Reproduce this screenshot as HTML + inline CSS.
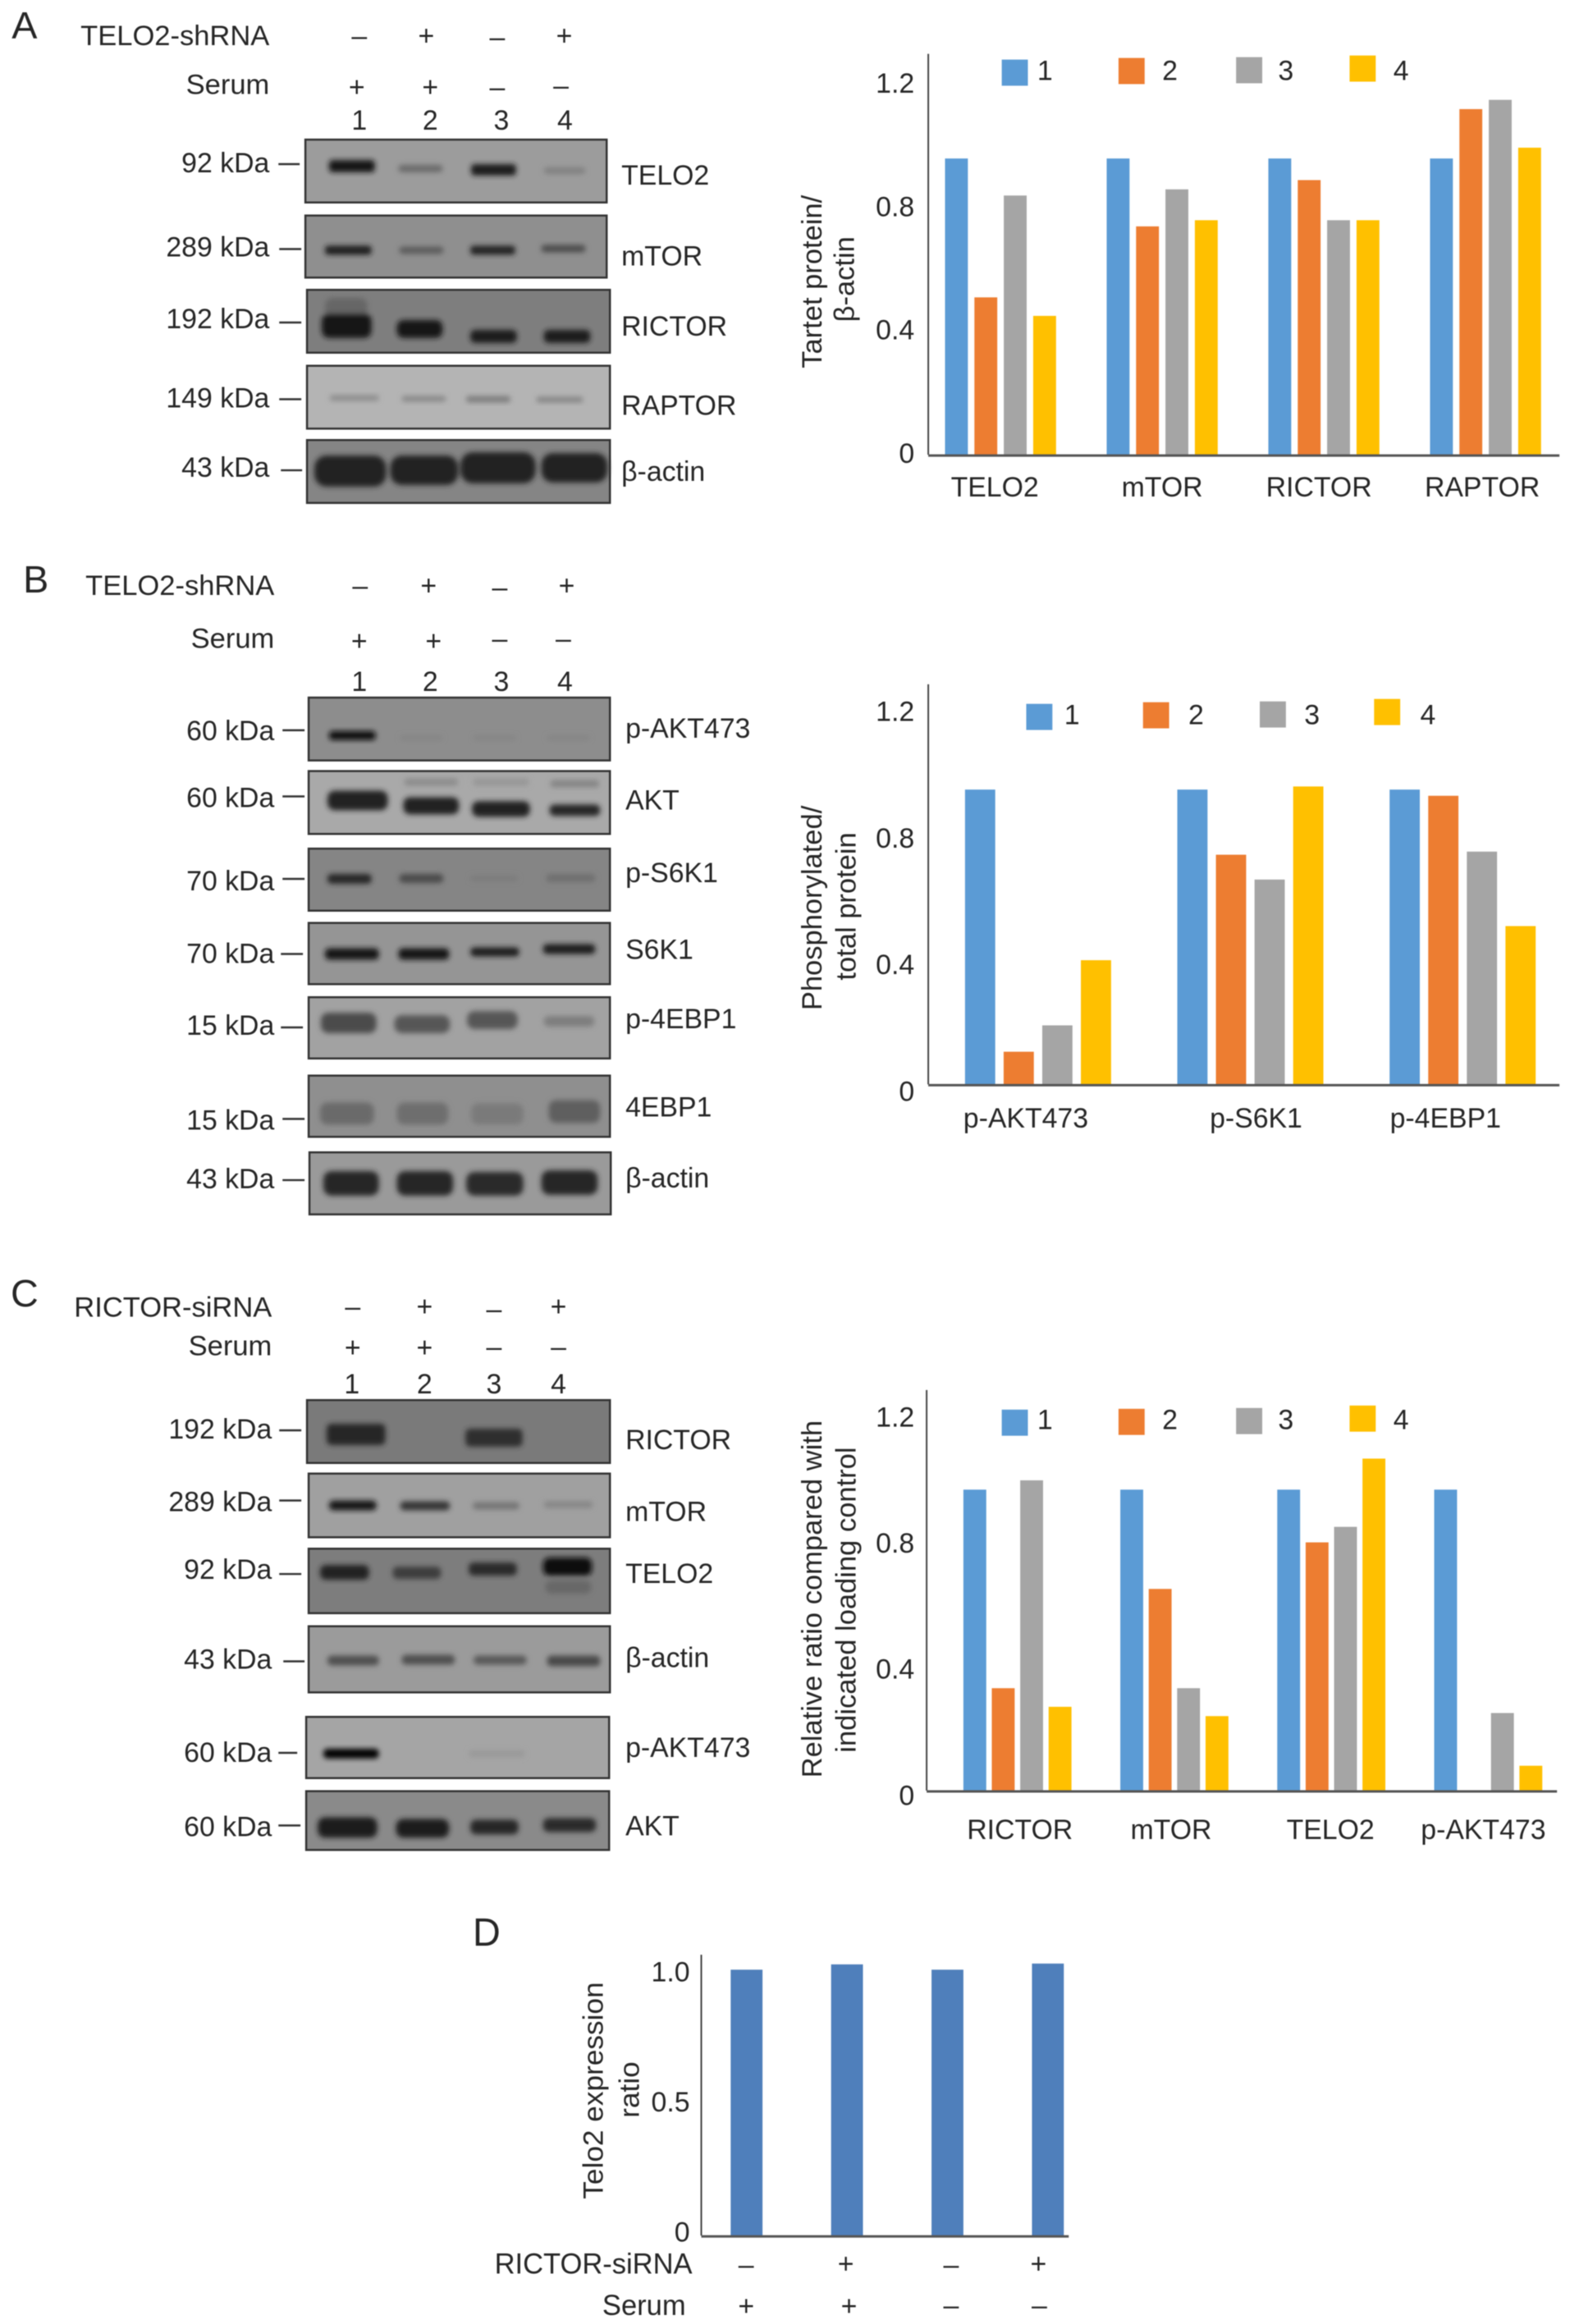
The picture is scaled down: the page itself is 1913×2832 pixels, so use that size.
<!DOCTYPE html>
<html lang="en">
<head>
<meta charset="utf-8">
<title>TELO2 western blots and quantification</title>
<style>
html,body{margin:0;padding:0;background:#fff;width:1913px;height:2832px;overflow:hidden}
svg{display:block;filter:blur(.6px)}
text{font-family:"Liberation Sans",sans-serif;font-size:34px;fill:#262626;dominant-baseline:central}
text.big{font-size:34.7px}
text.panel{font-size:47px}
.r{text-anchor:end}
.m{text-anchor:middle}
.l{text-anchor:start}
.tick{stroke:#333;stroke-width:2.5}
.blot{stroke:#333;stroke-width:2.5}
</style>
</head>
<body>
<svg id="figure" xmlns="http://www.w3.org/2000/svg" width="1913" height="2832" viewBox="0 0 1913 2832">
<defs>
<filter id="blur" x="-20%" y="-50%" width="140%" height="200%"><feGaussianBlur stdDeviation="3.2"/></filter>
</defs>
<rect width="1913" height="2832" fill="#fff"/>

<!-- PANEL A -->
<g transform="scale(0.9949)">
<text class="panel m" x="30" y="31">A</text>
<text class="r big" x="330" y="44">TELO2-shRNA</text>
<text class="m" x="440" y="44">–</text>
<text class="m" x="522" y="44">+</text>
<text class="m" x="609" y="46">–</text>
<text class="m" x="691" y="44">+</text>
<text class="r big" x="330" y="104">Serum</text>
<text class="m" x="437" y="107">+</text>
<text class="m" x="527" y="107">+</text>
<text class="m" x="609" y="107">–</text>
<text class="m" x="687" y="105">–</text>
<text class="m" x="440" y="148">1</text>
<text class="m" x="527" y="148">2</text>
<text class="m" x="614" y="148">3</text>
<text class="m" x="692" y="148">4</text>

<g>
<rect class="blot" x="374" y="171" width="369" height="77" fill="#9c9c9c"/>
<g filter="url(#blur)">
<rect x="403" y="196" width="56" height="15" rx="4" fill="#161616"/>
<rect x="488" y="202" width="54" height="9" rx="4" fill="#6a6a6a"/>
<rect x="577" y="201" width="55" height="14" rx="4" fill="#1c1c1c"/>
<rect x="666" y="205" width="51" height="8" rx="4" fill="#808080"/>
</g></g>
<g>
<rect class="blot" x="374" y="264" width="369" height="76" fill="#8f8f8f"/>
<g filter="url(#blur)">
<rect x="398" y="301" width="57" height="11" rx="4" fill="#1c1c1c"/>
<rect x="489" y="302" width="54" height="9" rx="4" fill="#5c5c5c"/>
<rect x="576" y="301" width="55" height="11" rx="4" fill="#242424"/>
<rect x="663" y="300" width="54" height="9" rx="4" fill="#4c4c4c"/>
</g></g>
<g>
<rect class="blot" x="376" y="355" width="371" height="77" fill="#7e7e7e"/>
<g filter="url(#blur)">
<rect x="398" y="365" width="52" height="25" rx="9" fill="#666"/>
<rect x="394" y="384" width="61" height="30" rx="9" fill="#181818"/>
<rect x="486" y="392" width="56" height="22" rx="8" fill="#181818"/>
<rect x="576" y="404" width="57" height="16" rx="6" fill="#1e1e1e"/>
<rect x="666" y="404" width="57" height="16" rx="6" fill="#1e1e1e"/>
</g></g>
<g>
<rect class="blot" x="376" y="448" width="371" height="77" fill="#b4b4b4"/>
<g filter="url(#blur)">
<rect x="404" y="484" width="60" height="7" rx="3" fill="#8c8c8c"/>
<rect x="492" y="485" width="54" height="7" rx="3" fill="#888"/>
<rect x="571" y="485" width="54" height="8" rx="3" fill="#7e7e7e"/>
<rect x="657" y="486" width="57" height="7" rx="3" fill="#858585"/>
</g></g>
<g>
<rect class="blot" x="376" y="539" width="371" height="77" fill="#858585"/>
<g filter="url(#blur)">
<rect x="385" y="558" width="88" height="38" rx="15" fill="#202020"/>
<rect x="478" y="558" width="83" height="36" rx="14" fill="#202020"/>
<rect x="564" y="554" width="92" height="38" rx="15" fill="#202020"/>
<rect x="663" y="555" width="81" height="36" rx="14" fill="#202020"/>
</g></g>

<text class="r" x="330" y="200">92 kDa</text>
<line class="tick" x1="341" x2="367" y1="201" y2="201"/>
<text class="r" x="330" y="303">289 kDa</text>
<line class="tick" x1="342" x2="369" y1="305" y2="305"/>
<text class="r" x="330" y="391">192 kDa</text>
<line class="tick" x1="342" x2="369" y1="395" y2="395"/>
<text class="r" x="330" y="488">149 kDa</text>
<line class="tick" x1="342" x2="369" y1="489" y2="489"/>
<text class="r" x="330" y="573">43 kDa</text>
<line class="tick" x1="344" x2="370" y1="576" y2="576"/>

<text class="l" x="761" y="215">TELO2</text>
<text class="l" x="761" y="314">mTOR</text>
<text class="l" x="761" y="400">RICTOR</text>
<text class="l" x="761" y="497">RAPTOR</text>
<text class="l" x="761" y="578">β-actin</text>
</g>

<!-- PANEL B -->
<g transform="translate(0 670) scale(0.9949) translate(0 -670)">
<text class="panel m" x="44" y="706">B</text>
<text class="r big" x="336" y="714">TELO2-shRNA</text>
<text class="m" x="441" y="714">–</text>
<text class="m" x="525" y="714">+</text>
<text class="m" x="612" y="716">–</text>
<text class="m" x="694" y="714">+</text>
<text class="r big" x="336" y="779">Serum</text>
<text class="m" x="440" y="782">+</text>
<text class="m" x="531" y="782">+</text>
<text class="m" x="612" y="779">–</text>
<text class="m" x="690" y="779">–</text>
<text class="m" x="440" y="832">1</text>
<text class="m" x="527" y="832">2</text>
<text class="m" x="614" y="832">3</text>
<text class="m" x="692" y="832">4</text>

<g>
<rect class="blot" x="378" y="851" width="369" height="77" fill="#8d8d8d"/>
<g filter="url(#blur)">
<rect x="403" y="892" width="57" height="11" rx="4" fill="#0c0c0c"/>
<rect x="490" y="898" width="52" height="5" rx="2" fill="#838383"/>
<rect x="580" y="898" width="52" height="5" rx="2" fill="#838383"/>
<rect x="670" y="898" width="52" height="5" rx="2" fill="#838383"/>
</g></g>
<g>
<rect class="blot" x="378" y="941" width="369" height="77" fill="#a9a9a9"/>
<g filter="url(#blur)">
<rect x="401" y="965" width="74" height="24" rx="9" fill="#202020"/>
<rect x="494" y="973" width="68" height="21" rx="8" fill="#202020"/>
<rect x="578" y="978" width="71" height="19" rx="8" fill="#202020"/>
<rect x="673" y="982" width="62" height="14" rx="6" fill="#262626"/>
<rect x="495" y="950" width="66" height="9" rx="4" fill="#8c8c8c"/>
<rect x="579" y="950" width="69" height="9" rx="4" fill="#969696"/>
<rect x="674" y="952" width="60" height="9" rx="4" fill="#858585"/>
</g></g>
<g>
<rect class="blot" x="378" y="1036" width="369" height="76" fill="#858585"/>
<g filter="url(#blur)">
<rect x="401" y="1067" width="54" height="12" rx="5" fill="#262626"/>
<rect x="489" y="1067" width="54" height="11" rx="5" fill="#4c4c4c"/>
<rect x="576" y="1069" width="58" height="7" rx="3" fill="#7c7c7c"/>
<rect x="669" y="1067" width="60" height="10" rx="4" fill="#6f6f6f"/>
</g></g>
<g>
<rect class="blot" x="378" y="1127" width="369" height="75" fill="#959595"/>
<g filter="url(#blur)">
<rect x="398" y="1158" width="66" height="14" rx="5" fill="#181818"/>
<rect x="488" y="1158" width="62" height="14" rx="5" fill="#181818"/>
<rect x="576" y="1157" width="60" height="11" rx="5" fill="#1c1c1c"/>
<rect x="665" y="1153" width="64" height="12" rx="5" fill="#1c1c1c"/>
</g></g>
<g>
<rect class="blot" x="378" y="1218" width="369" height="75" fill="#a2a2a2"/>
<g filter="url(#blur)">
<rect x="393" y="1237" width="68" height="25" rx="9" fill="#4c4c4c"/>
<rect x="483" y="1240" width="68" height="22" rx="9" fill="#565656"/>
<rect x="572" y="1235" width="62" height="22" rx="9" fill="#565656"/>
<rect x="666" y="1241" width="62" height="13" rx="6" fill="#7e7e7e"/>
</g></g>
<g>
<rect class="blot" x="378" y="1314" width="369" height="75" fill="#8f8f8f"/>
<g filter="url(#blur)">
<rect x="392" y="1347" width="66" height="27" rx="9" fill="#6a6a6a"/>
<rect x="486" y="1347" width="63" height="27" rx="9" fill="#6e6e6e"/>
<rect x="577" y="1348" width="64" height="26" rx="9" fill="#7a7a7a"/>
<rect x="672" y="1344" width="63" height="28" rx="9" fill="#5e5e5e"/>
</g></g>
<g>
<rect class="blot" x="379" y="1408" width="369" height="76" fill="#9a9a9a"/>
<g filter="url(#blur)">
<rect x="396" y="1431" width="68" height="30" rx="10" fill="#262626"/>
<rect x="486" y="1431" width="69" height="30" rx="10" fill="#262626"/>
<rect x="571" y="1432" width="70" height="29" rx="10" fill="#2a2a2a"/>
<rect x="663" y="1430" width="69" height="30" rx="10" fill="#262626"/>
</g></g>

<text class="r" x="336" y="892">60 kDa</text>
<line class="tick" x1="346" x2="373" y1="891" y2="891"/>
<text class="r" x="336" y="974">60 kDa</text>
<line class="tick" x1="346" x2="373" y1="972" y2="972"/>
<text class="r" x="336" y="1076">70 kDa</text>
<line class="tick" x1="346" x2="373" y1="1073" y2="1073"/>
<text class="r" x="336" y="1165">70 kDa</text>
<line class="tick" x1="344" x2="371" y1="1165" y2="1165"/>
<text class="r" x="336" y="1253">15 kDa</text>
<line class="tick" x1="344" x2="371" y1="1255" y2="1255"/>
<text class="r" x="336" y="1369">15 kDa</text>
<line class="tick" x1="346" x2="373" y1="1367" y2="1367"/>
<text class="r" x="336" y="1441">43 kDa</text>
<line class="tick" x1="346" x2="373" y1="1442" y2="1442"/>

<text class="l" x="766" y="889">p-AKT473</text>
<text class="l" x="766" y="977">AKT</text>
<text class="l" x="766" y="1066">p-S6K1</text>
<text class="l" x="766" y="1160">S6K1</text>
<text class="l" x="766" y="1245">p-4EBP1</text>
<text class="l" x="766" y="1353">4EBP1</text>
<text class="l" x="766" y="1440">β-actin</text>
</g>

<!-- PANEL C -->
<g transform="translate(0 1540) scale(0.9949) translate(0 -1540)">
<text class="panel m" x="30" y="1576">C</text>
<text class="r big" x="333" y="1594">RICTOR-siRNA</text>
<text class="m" x="432" y="1593">–</text>
<text class="m" x="520" y="1593">+</text>
<text class="m" x="605" y="1596">–</text>
<text class="m" x="684" y="1593">+</text>
<text class="r big" x="333" y="1641">Serum</text>
<text class="m" x="432" y="1643">+</text>
<text class="m" x="520" y="1643">+</text>
<text class="m" x="605" y="1642">–</text>
<text class="m" x="684" y="1642">–</text>
<text class="m" x="431" y="1688">1</text>
<text class="m" x="520" y="1688">2</text>
<text class="m" x="605" y="1688">3</text>
<text class="m" x="684" y="1688">4</text>

<g>
<rect class="blot" x="376" y="1707" width="371" height="77" fill="#7a7a7a"/>
<g filter="url(#blur)">
<rect x="400" y="1736" width="72" height="26" rx="6" fill="#262626"/>
<rect x="570" y="1742" width="70" height="22" rx="6" fill="#2e2e2e"/>
</g></g>
<g>
<rect class="blot" x="378" y="1797" width="369" height="78" fill="#a0a0a0"/>
<g filter="url(#blur)">
<rect x="403" y="1830" width="58" height="12" rx="5" fill="#141414"/>
<rect x="490" y="1831" width="61" height="11" rx="5" fill="#363636"/>
<rect x="579" y="1832" width="57" height="9" rx="4" fill="#747474"/>
<rect x="666" y="1831" width="60" height="8" rx="4" fill="#858585"/>
</g></g>
<g>
<rect class="blot" x="378" y="1889" width="369" height="79" fill="#7d7d7d"/>
<g filter="url(#blur)">
<rect x="392" y="1909" width="60" height="18" rx="7" fill="#242424"/>
<rect x="481" y="1911" width="59" height="15" rx="6" fill="#3c3c3c"/>
<rect x="574" y="1906" width="59" height="16" rx="6" fill="#2a2a2a"/>
<rect x="665" y="1900" width="60" height="22" rx="8" fill="#101010"/>
<rect x="668" y="1928" width="56" height="16" rx="7" fill="#686868"/>
</g></g>
<g>
<rect class="blot" x="378" y="1984" width="369" height="81" fill="#9b9b9b"/>
<g filter="url(#blur)">
<rect x="401" y="2020" width="63" height="12" rx="5" fill="#505050"/>
<rect x="492" y="2019" width="65" height="12" rx="5" fill="#505050"/>
<rect x="580" y="2020" width="65" height="11" rx="5" fill="#585858"/>
<rect x="670" y="2020" width="65" height="13" rx="5" fill="#484848"/>
</g></g>
<g>
<rect class="blot" x="375" y="2095" width="371" height="75" fill="#a5a5a5"/>
<g filter="url(#blur)">
<rect x="396" y="2134" width="68" height="12" rx="5" fill="#060606"/>
<rect x="574" y="2136" width="69" height="8" rx="4" fill="#989898"/>
</g></g>
<g>
<rect class="blot" x="375" y="2186" width="371" height="72" fill="#8a8a8a"/>
<g filter="url(#blur)">
<rect x="389" y="2218" width="73" height="25" rx="9" fill="#1c1c1c"/>
<rect x="485" y="2220" width="65" height="23" rx="9" fill="#1e1e1e"/>
<rect x="576" y="2221" width="59" height="18" rx="7" fill="#262626"/>
<rect x="665" y="2219" width="65" height="17" rx="7" fill="#2c2c2c"/>
</g></g>

<text class="r" x="333" y="1743">192 kDa</text>
<line class="tick" x1="342" x2="369" y1="1744" y2="1744"/>
<text class="r" x="333" y="1832">289 kDa</text>
<line class="tick" x1="342" x2="369" y1="1830" y2="1830"/>
<text class="r" x="333" y="1915">92 kDa</text>
<line class="tick" x1="342" x2="369" y1="1920" y2="1920"/>
<text class="r" x="333" y="2025">43 kDa</text>
<line class="tick" x1="347" x2="373" y1="2027" y2="2027"/>
<text class="r" x="333" y="2139">60 kDa</text>
<line class="tick" x1="341" x2="364" y1="2139" y2="2139"/>
<text class="r" x="333" y="2230">60 kDa</text>
<line class="tick" x1="341" x2="368" y1="2228" y2="2228"/>

<text class="l" x="766" y="1756">RICTOR</text>
<text class="l" x="766" y="1844">mTOR</text>
<text class="l" x="766" y="1920">TELO2</text>
<text class="l" x="766" y="2023">β-actin</text>
<text class="l" x="766" y="2133">p-AKT473</text>
<text class="l" x="766" y="2229">AKT</text>
</g>

<!-- PANEL D labels -->
<g transform="translate(560 2320) scale(0.9949 1.0157) translate(-560 -2320)">
<text class="panel m" x="593" y="2355">D</text>
<text class="r big" x="845" y="2752">RICTOR-siRNA</text>
<text class="m" x="911" y="2753">–</text>
<text class="m" x="1033" y="2752">+</text>
<text class="m" x="1162" y="2753">–</text>
<text class="m" x="1269" y="2752">+</text>
<text class="r big" x="837" y="2802">Serum</text>
<text class="m" x="911" y="2803">+</text>
<text class="m" x="1037" y="2803">+</text>
<text class="m" x="1162" y="2802">–</text>
<text class="m" x="1270" y="2802">–</text>
</g>

<g id="charts"></g>
</svg>

<script>
// Shared
const legendLabels = ['1', '2', '3', '4'];
const seriesColors = ['#5b9bd5', '#ed7d31', '#a5a5a5', '#ffc000'];

// Chart A values
const chartACategories = ['TELO2', 'mTOR', 'RICTOR', 'RAPTOR'];
const chartASeries1 = [0.96, 0.96, 0.96, 0.96];
const chartASeries2 = [0.51, 0.74, 0.89, 1.12];
const chartASeries3 = [0.84, 0.86, 0.76, 1.15];
const chartASeries4 = [0.45, 0.76, 0.76, 0.995];
const chartATickValues = [0, 0.4, 0.8, 1.2];
const chartATickLabels = ['0', '0.4', '0.8', '1.2'];

// Chart B values
const chartBCategories = ['p-AKT473', 'p-S6K1', 'p-4EBP1'];
const chartBSeries1 = [0.95, 0.95, 0.95];
const chartBSeries2 = [0.105, 0.74, 0.93];
const chartBSeries3 = [0.19, 0.66, 0.75];
const chartBSeries4 = [0.40, 0.96, 0.51];
const chartBTickValues = [0, 0.4, 0.8, 1.2];
const chartBTickLabels = ['0', '0.4', '0.8', '1.2'];

// Chart C values
const chartCCategories = ['RICTOR', 'mTOR', 'TELO2', 'p-AKT473'];
const chartCSeries1 = [0.97, 0.97, 0.97, 0.97];
const chartCSeries2 = [0.33, 0.65, 0.80, 0];
const chartCSeries3 = [1.00, 0.33, 0.85, 0.25];
const chartCSeries4 = [0.27, 0.24, 1.07, 0.08];
const chartCTickValues = [0, 0.4, 0.8, 1.2];
const chartCTickLabels = ['0', '0.4', '0.8', '1.2'];

// Chart D values
const chartDCategories = ['1', '2', '3', '4'];
const chartDSeries1 = [1.0, 1.02, 1.0, 1.023];
const chartDTickValues = [0, 0.5, 1.0];
const chartDTickLabels = ['0', '0.5', '1.0'];

const SVGNS = 'http://www.w3.org/2000/svg';
const chartsRoot = document.getElementById('charts');

function make(parent, tag, attrs) {
  const el = document.createElementNS(SVGNS, tag);
  for (const k in attrs) el.setAttribute(k, attrs[k]);
  parent.appendChild(el);
  return el;
}

function drawChart(cfg) {
  const yScale = v => cfg.baseY - v * cfg.unit;
  const labelY = v => cfg.labelZero - v * cfg.labelUnit;
  const barX = (g, s) => cfg.firstX + g * cfg.groupPitch + s * cfg.barPitch;

  const root = make(chartsRoot, 'g', { transform: cfg.frame });
  
  

  cfg.series.forEach((values, s) => {
    values.forEach((v, g) => {
      const bar = make(root, 'rect', {
        x: barX(g, s), y: yScale(v), width: cfg.barWidth,
        height: Math.max(0, cfg.baseY - yScale(v)), fill: cfg.colors[s]
      });
      
      
    });
  });

  const yAxis = make(root, 'line', { x1: cfg.axisX, x2: cfg.axisX, y1: cfg.axisTop, y2: cfg.baseY, stroke: '#444', 'stroke-width': 2 });
  
  
  const xAxis = make(root, 'line', { x1: cfg.axisX, x2: cfg.axisRight, y1: cfg.baseY + 1, y2: cfg.baseY + 1, stroke: '#555', 'stroke-width': 3 });
  
  

  cfg.tickValues.forEach((v, i) => {
    const t = make(root, 'text', { x: cfg.tickRight, y: labelY(v), 'text-anchor': 'end' });
    t.textContent = cfg.tickLabels[i];
    
    
  });

  if (cfg.showCategories) {
    cfg.categories.forEach((c, g) => {
      const groupMid = barX(g, 0) + (cfg.barPitch * (cfg.series.length - 1) + cfg.barWidth) / 2;
      const t = make(root, 'text', { x: groupMid + cfg.labelNudge[g], y: cfg.categoryY, 'text-anchor': 'middle' });
      t.textContent = c;
      
      
    });
  }

  cfg.titleLines.forEach(line => {
    const t = make(root, 'text', { class: 'big', x: line.x, y: line.y, 'text-anchor': 'middle', transform: 'rotate(-90 ' + line.x + ' ' + line.y + ')' });
    t.textContent = line.text;
    
    
  });

  if (cfg.legend) {
    cfg.legend.forEach((entry, i) => {
      const g = make(root, 'g', {});
      
      
      const sw = make(g, 'rect', { x: entry.x, y: entry.y, width: 32, height: 32, fill: seriesColors[i] });
      
      
      const lab = make(g, 'text', { x: entry.tx, y: cfg.legendTextY, 'text-anchor': 'middle' });
      lab.textContent = legendLabels[i];
      
      
    });
  }
}

drawChart({
  name: 'chart-a', categories: chartACategories,
  frame: 'translate(950 0) scale(0.9949) translate(-950 0)',
  series: [chartASeries1, chartASeries2, chartASeries3, chartASeries4], colors: seriesColors,
  baseY: 557, unit: 378, labelZero: 556, labelUnit: 378,
  firstX: 1152.5, groupPitch: 198, barPitch: 36, barWidth: 28,
  axisX: 1132, axisTop: 66, axisRight: 1905, tickRight: 1115,
  tickValues: chartATickValues, tickLabels: chartATickLabels,
  showCategories: true, labelNudge: [-7, 0, -6, -4], categoryY: 597,
  titleLines: [{ text: 'Tartet protein/', x: 990, y: 345 }, { text: 'β-actin', x: 1030, y: 342 }],
  legend: [{ x: 1222, y: 73, tx: 1275 }, { x: 1365, y: 71, tx: 1428 }, { x: 1509, y: 70, tx: 1570 }, { x: 1648, y: 68, tx: 1711 }],
  legendTextY: 87
});

drawChart({
  name: 'chart-b', categories: chartBCategories,
  frame: 'translate(950 800) scale(0.9949) translate(-950 -800)',
  series: [chartBSeries1, chartBSeries2, chartBSeries3, chartBSeries4], colors: seriesColors,
  baseY: 1324, unit: 380, labelZero: 1333, labelUnit: 387.5,
  firstX: 1177, groupPitch: 260, barPitch: 47.3, barWidth: 37,
  axisX: 1132, axisTop: 834, axisRight: 1905, tickRight: 1115,
  tickValues: chartBTickValues, tickLabels: chartBTickLabels,
  showCategories: true, labelNudge: [-15, 7, -21], categoryY: 1366,
  titleLines: [{ text: 'Phosphorylated/', x: 990, y: 1108 }, { text: 'total protein', x: 1032, y: 1106 }],
  legend: [{ x: 1252, y: 858, tx: 1308 }, { x: 1395, y: 856, tx: 1460 }, { x: 1538, y: 855, tx: 1602 }, { x: 1678, y: 852, tx: 1744 }],
  legendTextY: 872
});

drawChart({
  name: 'chart-c', categories: chartCCategories,
  frame: 'translate(950 1670) scale(0.9949) translate(-950 -1670)',
  series: [chartCSeries1, chartCSeries2, chartCSeries3, chartCSeries4], colors: seriesColors,
  baseY: 2184.6, unit: 380, labelZero: 2191, labelUnit: 386,
  firstX: 1175, groupPitch: 192.2, barPitch: 34.8, barWidth: 28,
  axisX: 1130, axisTop: 1694, axisRight: 1902, tickRight: 1115,
  tickValues: chartCTickValues, tickLabels: chartCTickLabels,
  showCategories: true, labelNudge: [3, -4, -1, -6], categoryY: 2233,
  titleLines: [{ text: 'Relative ratio compared with', x: 990, y: 1950 }, { text: 'indicated loading control', x: 1032, y: 1951 }],
  legend: [{ x: 1222, y: 1718, tx: 1275 }, { x: 1365, y: 1717, tx: 1428 }, { x: 1509, y: 1716, tx: 1570 }, { x: 1648, y: 1713, tx: 1711 }],
  legendTextY: 1731
});

drawChart({
  name: 'chart-d', categories: chartDCategories,
  frame: 'translate(560 2320) scale(0.9949 1.0157) translate(-560 -2320)',
  series: [chartDSeries1], colors: ['#4f7fbb'],
  baseY: 2718, unit: 319, labelZero: 2714, labelUnit: 312,
  firstX: 892, groupPitch: 123, barPitch: 0, barWidth: 39,
  axisX: 856, axisTop: 2381, axisRight: 1306, tickRight: 842,
  tickValues: chartDTickValues, tickLabels: chartDTickLabels,
  showCategories: false, labelNudge: [], categoryY: 0,
  titleLines: [{ text: 'Telo2 expression', x: 724, y: 2544 }, { text: 'ratio', x: 768, y: 2543 }],
  legend: null, legendTextY: 0
});
</script>
</body>
</html>
